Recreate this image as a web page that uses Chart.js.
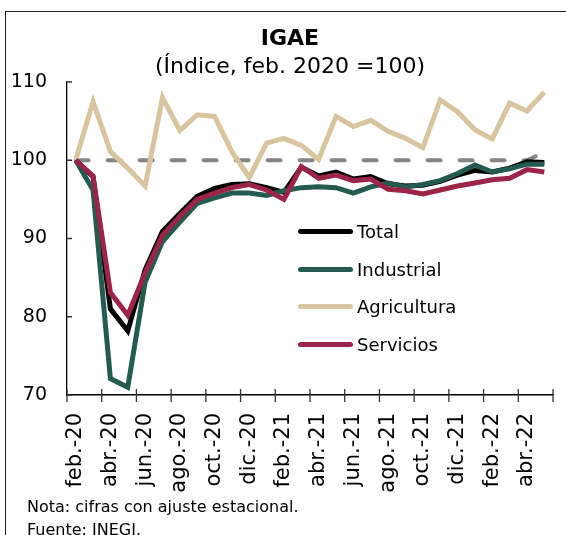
<!DOCTYPE html>
<html lang="es">
<head>
<meta charset="utf-8">
<title>IGAE</title>
<script src="https://cdn.jsdelivr.net/npm/chart.js@4.4.1/dist/chart.umd.min.js"></script>
<style>
    body { margin: 0; background: #fff; font-family: "DejaVu Sans", sans-serif; }
    #lienzo { position: relative; width: 566px; height: 535px; overflow: hidden; }
    #marco { position: absolute; left: 5px; top: 11px; width: 700px; height: 700px;
             border-left: 1px solid #222; border-top: 1px solid #222; }
    canvas { position: absolute; left: 0; top: 0; }
    .titulo { position: absolute; left: 140px; width: 300px; text-align: center; color: #000; line-height: 1; white-space: nowrap; }
    #t1 { top: 27px; font-size: 22px; font-weight: bold; }
    #t2 { top: 55px; font-size: 22px; }
    #leyenda { position: absolute; left: 298px; top: 213px; }
    .fila { display: flex; align-items: center; height: 37.5px; font-size: 18px; color: #000; }
    .muestra { width: 55px; height: 5px; border-radius: 3px; margin-right: 4px; }
    #nota { position: absolute; left: 27px; top: 495px; font-size: 16px; line-height: 23px; color: #000; }
</style>
</head>
<body>
<div id="lienzo">
    <div id="marco"></div>
    <canvas id="grafica" width="566" height="535"></canvas>
    <div class="titulo" id="t1">IGAE</div>
    <div class="titulo" id="t2">(Índice, feb. 2020 =100)</div>
    <div id="leyenda"></div>
    <div id="nota">Nota: cifras con ajuste estacional.<br>Fuente: INEGI.</div>
</div>
<script>
// meses feb-20 a may-22
const etiquetas = ['feb.-20', 'mar.-20', 'abr.-20', 'may.-20', 'jun.-20', 'jul.-20', 'ago.-20', 'sep.-20',
    'oct.-20', 'nov.-20', 'dic.-20', 'ene.-21', 'feb.-21', 'mar.-21', 'abr.-21', 'may.-21', 'jun.-21',
    'jul.-21', 'ago.-21', 'sep.-21', 'oct.-21', 'nov.-21', 'dic.-21', 'ene.-22', 'feb.-22', 'mar.-22',
    'abr.-22', 'may.-22'];

const total = [100, 97.9, 81.0, 78.2, 86.0, 90.9, 93.2, 95.4, 96.4, 96.9, 97.0, 96.5, 95.9, 99.1,
    98.0, 98.5, 97.6, 97.9, 97.0, 96.7, 96.8, 97.3, 98.1, 98.7, 98.5, 99.0, 99.8, 99.7];
const industrial = [100, 96.2, 72.1, 71.0, 84.4, 89.6, 92.1, 94.5, 95.2, 95.8, 95.8, 95.5, 96.1, 96.5,
    96.6, 96.5, 95.8, 96.6, 97.1, 96.6, 96.9, 97.4, 98.3, 99.4, 98.5, 98.9, 99.5, 99.5];
const agricultura = [100, 107.5, 101.1, 99.0, 96.7, 108.0, 103.8, 105.8, 105.6, 101.1, 97.8, 102.2, 102.8,
    101.9, 100.1, 105.6, 104.3, 105.1, 103.7, 102.8, 101.6, 107.7, 106.2, 103.9, 102.7, 107.3, 106.3, 108.7];
const servicios = [100, 98.0, 83.1, 80.2, 85.6, 90.4, 92.8, 95.0, 95.8, 96.5, 96.9, 96.2, 95.0, 99.2,
    97.7, 98.1, 97.4, 97.6, 96.3, 96.1, 95.7, 96.2, 96.7, 97.1, 97.5, 97.7, 98.8, 98.5];
const referencia = [100, 100, 100, 100, 100, 100, 100, 100, 100, 100, 100, 100, 100, 100,
    100, 100, 100, 100, 100, 100, 100, 100, 100, 100, 100, 100, 100, 101.0];

const ejeY = [70, 80, 90, 100, 110];

const series = [
    { label: 'Total', data: total, borderColor: '#000000', order: 3 },
    { label: 'Industrial', data: industrial, borderColor: '#235B4E', order: 2 },
    { label: 'Agricultura', data: agricultura, borderColor: '#D8C49E', order: 4 },
    { label: 'Servicios', data: servicios, borderColor: '#9D2449', order: 1 }
];

// leyenda en html
const leyenda = document.getElementById('leyenda');
series.forEach(s => {
    leyenda.insertAdjacentHTML('beforeend',
        `<div class="fila"><span class="muestra" style="background:${s.borderColor}"></span>${s.label}</div>`);
});

// marcas de los ejes (y hacia adentro, x cruzando el eje)
const marcas = {
    id: 'marcas',
    afterDatasetsDraw(chart) {
        const { ctx, scales: { x, y } } = chart;
        ctx.save();
        ctx.strokeStyle = '#333';
        ctx.lineWidth = 1.3;
        ctx.beginPath();
        ejeY.forEach(v => {
            const py = y.getPixelForValue(v);
            ctx.moveTo(x.left, py);
            ctx.lineTo(x.left + 5, py);
        });
        const mitad = (x.getPixelForValue(1) - x.getPixelForValue(0)) / 2;
        etiquetas.forEach((e, i) => {
            if (i % 2 === 0) {
                const px = x.getPixelForValue(i) - mitad;
                ctx.moveTo(px, y.bottom - 6);
                ctx.lineTo(px, y.bottom + 7);
            }
        });
        ctx.moveTo(x.right, y.bottom - 6);
        ctx.lineTo(x.right, y.bottom + 7);
        ctx.stroke();
        ctx.restore();
    }
};

// rejilla invisible, solo sirve para separar las etiquetas del eje
const rejilla = (largo) => ({
    display: true,
    drawOnChartArea: false,
    drawTicks: true,
    tickLength: largo,
    color: 'rgba(0,0,0,0)'
});

const ctx = document.getElementById('grafica');
new Chart(ctx, {
    type: 'line',
    data: {
        labels: etiquetas,
        datasets: series.map(s => ({
            label: s.label,
            data: s.data,
            borderColor: s.borderColor,
            backgroundColor: s.borderColor,
            borderWidth: 5,
            pointRadius: 0,
            tension: 0,
            order: s.order
        })).concat([{
            label: 'ref',
            data: referencia,
            borderColor: '#858585',
            borderWidth: 4,
            borderDash: [13, 19],
            borderCapStyle: 'round',
            pointRadius: 0,
            order: 5
        }])
    },
    options: {
        responsive: false,
        animation: false,
        layout: { padding: { left: 0, top: 82, right: 13, bottom: 0 } },
        plugins: {
            legend: { display: false },
            title: { display: false },
            tooltip: { enabled: false }
        },
        scales: {
            x: {
                offset: true,
                grid: Object.assign(rejilla(18), { offset: true }),
                border: { display: true, color: '#000', width: 1.5 },
                ticks: {
                    autoSkip: false,
                    minRotation: 90,
                    maxRotation: 90,
                    padding: 0,
                    color: '#000',
                    font: { family: 'DejaVu Sans', size: 21 },
                    callback: function (v, i) { return i % 2 === 0 ? etiquetas[i] : ''; }
                },
                afterFit: s => { s.height = 140; s.paddingLeft = 0; s.paddingRight = 0; }
            },
            y: {
                min: 70,
                max: 110,
                grid: rejilla(20),
                border: { display: true, color: '#000', width: 1.3 },
                ticks: {
                    stepSize: 10,
                    padding: 0,
                    color: '#000',
                    font: { family: 'DejaVu Sans', size: 19 }
                },
                afterFit: s => { s.width = 67; s.paddingTop = 0; s.paddingBottom = 0; }
            }
        }
    },
    plugins: [marcas]
});
</script>
</body>
</html>
